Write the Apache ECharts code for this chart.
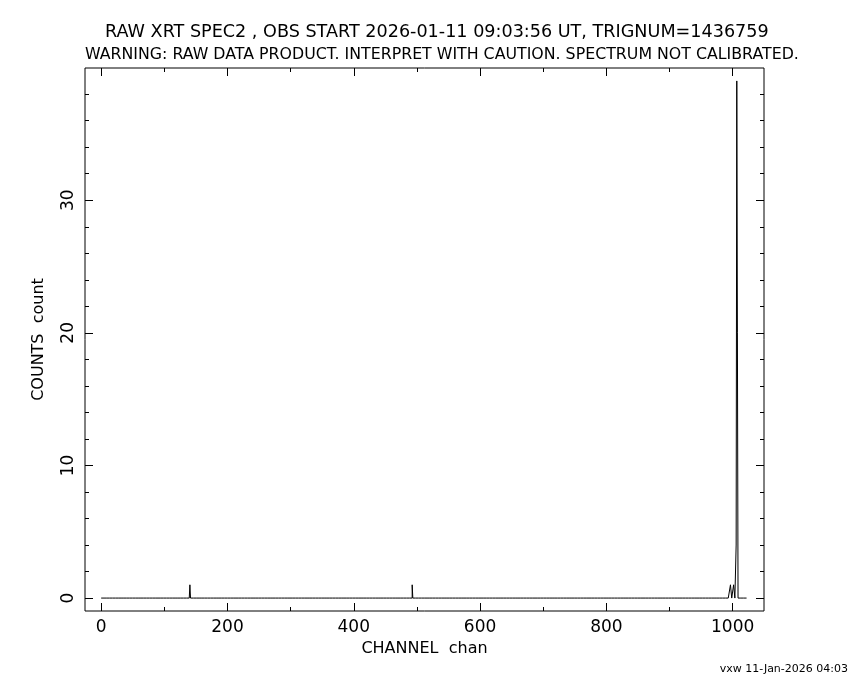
<!DOCTYPE html>
<html>
<head>
<meta charset="utf-8">
<script src="https://cdn.jsdelivr.net/npm/echarts@6/dist/echarts.min.js"></script>
<style>
  html, body { margin: 0; padding: 0; background: #fff; }
  #chart { width: 850px; height: 680px; }
</style>
</head>
<body>
<div id="chart"></div>
<script>
// 스펙트럼 데이터 (채널 0..1023, 대부분 0)
var nChannels = 1024
var spikeChannels = [141, 493, 997, 998, 1002, 1003, 1006, 1007, 1008]
var spikeCounts   = [1,   1,   1,   1,   1,    1,    4,    39,   20]

var xMajor = [0, 200, 400, 600, 800, 1000]
var xMinor = [100, 300, 500, 700, 900]
var yMajor = [0, 10, 20, 30]
var yMinor = [2, 4, 6, 8, 12, 14, 16, 18, 22, 24, 26, 28, 32, 34, 36, 38]

var titleLine1 = 'RAW XRT SPEC2 , OBS START 2026-01-11 09:03:56 UT, TRIGNUM=1436759'
var titleLine2 = 'WARNING: RAW DATA PRODUCT. INTERPRET WITH CAUTION. SPECTRUM NOT CALIBRATED.'
var stamp = 'vxw 11-Jan-2026 04:03'

var xMin = -25.6, xMax = 1049.6
var yMin = -0.975, yMax = 39.975

var counts = []
for (var i = 0; i < nChannels; i++) counts.push([i, 0])
spikeChannels.forEach(function (ch, k) { counts[ch][1] = spikeCounts[k] })

var font = '"DejaVu Sans", sans-serif'
var chart = echarts.init(document.getElementById('chart'))

function plain(v) { return String(v) }

function xAxisDef(pos, ticks, len, labels) {
  return {
    type: 'value', position: pos, min: xMin, max: xMax,
    axisLine: { show: false, onZero: false },
    splitLine: { show: false },
    axisTick: { show: true, inside: true, length: len, customValues: ticks,
      lineStyle: { color: '#000', width: 1 } },
    axisLabel: { show: labels, customValues: ticks, margin: 8, formatter: plain,
      color: '#000', fontSize: 17, fontFamily: font },
    name: labels ? 'CHANNEL  chan' : '', nameLocation: 'middle', nameGap: 30,
    nameTextStyle: { color: '#000', fontSize: 16, fontFamily: font }
  }
}
function yAxisDef(pos, ticks, len, labels) {
  return {
    type: 'value', position: pos, min: yMin, max: yMax,
    axisLine: { show: false, onZero: false },
    splitLine: { show: false },
    axisTick: { show: true, inside: true, length: len, customValues: ticks,
      lineStyle: { color: '#000', width: 1 } },
    axisLabel: { show: labels, customValues: ticks, rotate: 90, margin: 8, formatter: plain,
      color: '#000', fontSize: 17, fontFamily: font },
    name: labels ? 'COUNTS  count' : '', nameLocation: 'middle', nameGap: 38,
    nameTextStyle: { color: '#000', fontSize: 16, fontFamily: font }
  }
}

var option = {
  animation: false,
  backgroundColor: '#fff',
  title: [
    { text: titleLine1, left: 105, top: 23, padding: 0,
      textStyle: { color: '#000', fontSize: 17.6, fontWeight: 'normal', fontFamily: font } },
    { text: titleLine2, left: 85, top: 47, padding: 0,
      textStyle: { color: '#000', fontSize: 15.8, fontWeight: 'normal', fontFamily: font } },
    { text: stamp, right: 2, bottom: 5, padding: 0,
      textStyle: { color: '#000', fontSize: 11, fontWeight: 'normal', fontFamily: font } }
  ],
  grid: { left: 85, right: 86, top: 68, bottom: 69, show: true,
    borderColor: '#000', borderWidth: 1, backgroundColor: 'transparent' },
  xAxis: [
    xAxisDef('bottom', xMajor, 8, true),
    xAxisDef('bottom', xMinor, 4, false),
    xAxisDef('top', xMajor, 8, false),
    xAxisDef('top', xMinor, 4, false)
  ],
  yAxis: [
    yAxisDef('left', yMajor, 8, true),
    yAxisDef('left', yMinor, 4, false),
    yAxisDef('right', yMajor, 8, false),
    yAxisDef('right', yMinor, 4, false)
  ],
  series: [
    {
      type: 'line',
      step: 'middle',
      data: counts,
      showSymbol: false,
      lineStyle: { color: '#000', width: 1 },
      silent: true
    }
  ]
}

chart.setOption(option)
</script>
</body>
</html>
